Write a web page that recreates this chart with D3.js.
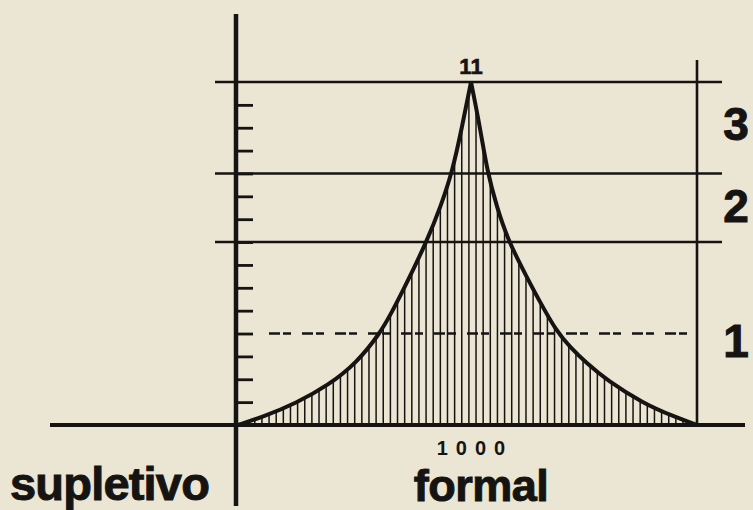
<!DOCTYPE html>
<html>
<head>
<meta charset="utf-8">
<script src="https://cdn.jsdelivr.net/npm/d3@7"></script>
<style>
  html, body { margin: 0; padding: 0; background: #ebe5d4; }
  svg { display: block; font-family: "Liberation Sans", Arial, sans-serif; font-weight: bold; }
</style>
</head>
<body>
<div id="chart"></div>
<script>
// curve: x in "1000" units, y in tick units (0..15)
const leftX  = [4, 112, 252, 392, 510, 612, 660, 718, 812, 870, 920, 962, 1000];
const leftY  = [0, 0.36, 0.95, 1.75, 2.70, 4.02, 4.90, 6.05, 8.05, 9.55, 11.06, 13.05, 15];
const rightX = [1000, 1038, 1070, 1110, 1159, 1245, 1290, 1366, 1423, 1494, 1580, 1735, 1870, 1966];
const rightY = [15, 13.05, 11.06, 9.55, 8.05, 6.34, 5.47, 4.08, 3.42, 2.70, 1.97, 0.95, 0.36, 0];

const solidLevels = [15, 11, 8];
const dashedLevel = 4;
const tickValues = d3.range(1, 15);
const bandLabels = ["3", "2", "1"];
const bandLabelAt = [13.2, 9.6, 3.7];
const peakLabel = "11";
const xTickLabel = "1000";
const leftName = "supletivo";
const rightName = "formal";

const ink = "#161412";
const W = 753, H = 510;

const svg = d3.select("#chart").append("svg")
  .attr("width", W)
  .attr("height", H);

svg.append("rect").attr("width", W).attr("height", H).attr("fill", "#ebe5d4");

const x = d3.scaleLinear().domain([0, 2000]).range([237, 705]);
const y = d3.scaleLinear().domain([0, 15]).range([425, 82]);

const left = leftX.map((v, i) => [v, leftY[i]]);
const right = rightX.map((v, i) => [v, rightY[i]]);

// clip for the hatching
const area = d3.area()
  .x(d => x(d[0]))
  .y0(y(0))
  .y1(d => y(d[1]))
  .curve(d3.curveBasis);

const clip = svg.append("defs").append("clipPath").attr("id", "under");
clip.append("path").attr("d", area(left));
clip.append("path").attr("d", area(right));

svg.append("g")
  .attr("clip-path", "url(#under)")
  .selectAll("line")
  .data(d3.range(15, 1966, 30.5))
  .join("line")
  .attr("x1", d => x(d)).attr("x2", d => x(d))
  .attr("y1", y(0)).attr("y2", y(15) - 2)
  .attr("stroke", ink)
  .attr("stroke-width", 1.5);

// level lines
svg.append("g").selectAll("line")
  .data(solidLevels)
  .join("line")
  .attr("x1", 215).attr("x2", 722)
  .attr("y1", d => y(d)).attr("y2", d => y(d))
  .attr("stroke", ink)
  .attr("stroke-width", 2.6);

svg.append("line")
  .attr("x1", 269).attr("x2", 697)
  .attr("y1", y(dashedLevel)).attr("y2", y(dashedLevel))
  .attr("stroke", ink)
  .attr("stroke-width", 2.4)
  .attr("stroke-dasharray", "11,3,8,11");

// right border
svg.append("line")
  .attr("x1", 697).attr("x2", 697)
  .attr("y1", 60).attr("y2", y(0))
  .attr("stroke", ink)
  .attr("stroke-width", 2.6);

// left axis with inner ticks
const yAxis = svg.append("g")
  .attr("transform", "translate(236,0)")
  .call(d3.axisRight(y).tickValues(tickValues).tickSize(17).tickFormat(""));
yAxis.select(".domain").remove();
yAxis.selectAll(".tick line").attr("stroke", ink).attr("stroke-width", 2.8);

svg.append("line")
  .attr("x1", 236).attr("x2", 236)
  .attr("y1", 14).attr("y2", 506)
  .attr("stroke", ink)
  .attr("stroke-width", 4.5);

// baseline
svg.append("line")
  .attr("x1", 50).attr("x2", 745)
  .attr("y1", y(0)).attr("y2", y(0))
  .attr("stroke", ink)
  .attr("stroke-width", 4);

// the curve
const line = d3.line()
  .x(d => x(d[0]))
  .y(d => y(d[1]))
  .curve(d3.curveBasis);

[left, right].forEach(pts => {
  svg.append("path")
    .attr("d", line(pts))
    .attr("fill", "none")
    .attr("stroke", ink)
    .attr("stroke-width", 4)
    .attr("stroke-linejoin", "miter");
});

// labels
svg.append("text")
  .attr("x", x(1000)).attr("y", 74)
  .attr("text-anchor", "middle")
  .attr("font-size", 22)
  .attr("fill", ink)
  .attr("stroke", ink).attr("stroke-width", 0.6)
  .text(peakLabel);

svg.append("g").selectAll("text")
  .data(bandLabels)
  .join("text")
  .attr("x", 736)
  .attr("y", (d, i) => y(bandLabelAt[i]))
  .attr("dy", "0.36em")
  .attr("text-anchor", "middle")
  .attr("font-size", 46)
  .attr("fill", ink)
  .attr("stroke", ink).attr("stroke-width", 1)
  .text(d => d);

svg.append("text")
  .attr("x", x(1000) + 4).attr("y", 455)
  .attr("text-anchor", "middle")
  .attr("font-size", 20)
  .attr("letter-spacing", 8)
  .attr("fill", ink)
  .text(xTickLabel);

svg.append("text")
  .attr("x", 10).attr("y", 500)
  .attr("font-size", 47)
  .attr("letter-spacing", -0.8)
  .attr("fill", ink)
  .attr("stroke", ink).attr("stroke-width", 1)
  .text(leftName);

svg.append("text")
  .attr("x", 481).attr("y", 501)
  .attr("text-anchor", "middle")
  .attr("font-size", 45)
  .attr("letter-spacing", -0.5)
  .attr("fill", ink)
  .attr("stroke", ink).attr("stroke-width", 1)
  .text(rightName);
</script>
</body>
</html>
